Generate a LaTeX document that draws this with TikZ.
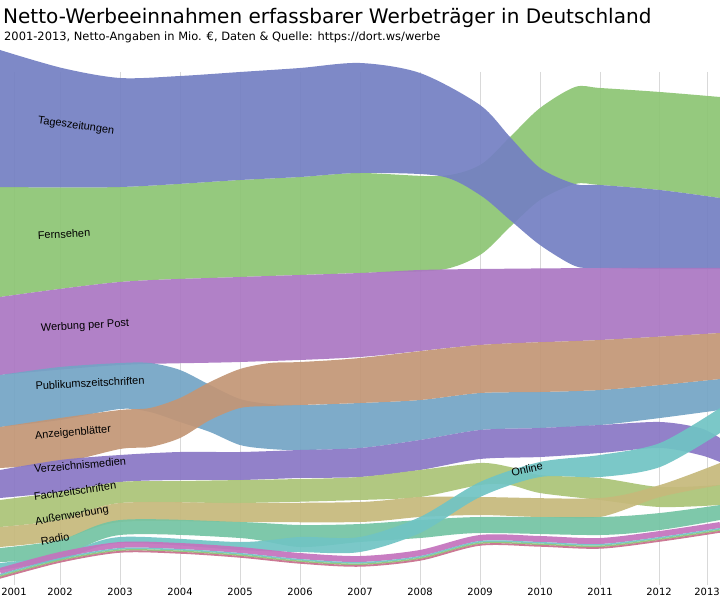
\documentclass[tikz,border=0pt]{standalone}
\usepackage{fontspec}
\setmainfont{DejaVu Sans}
\newfontfamily\labelfont{Liberation Sans}
\usetikzlibrary{positioning}

\begin{document}
\begin{tikzpicture}[x=1bp,y=-1bp]
    \tikzstyle{band}=[opacity=0.92,draw=none]
    \tikzstyle{medium}=[font=\labelfont\fontsize{11}{11}\selectfont,inner sep=0pt]
    \tikzstyle{year}=[font=\fontsize{10}{10}\selectfont,inner sep=0pt]
    \tikzstyle{grid}=[draw=gray!30,line width=0.8bp]
    \useasboundingbox[fill=white] (0,0) rectangle (720,600);
    % title
    \node[anchor=west,font=\fontsize{20.1}{20.1}\selectfont,inner sep=0pt] (title) at (3,18) {Netto-Werbeeinnahmen erfassbarer Werbeträger in Deutschland};
    \node[anchor=west,font=\fontsize{11.5}{11.5}\selectfont,inner sep=0pt] (subtitle) at (4,37) {2001-2013, Netto-Angaben in Mio. €, Daten \& Quelle: https://dort.ws/werbe};
    % grid and years
    \foreach \x/\yr in {14/2001,60/2002,120/2003,180/2004,240/2005,300/2006,360/2007,420/2008,480/2009,540/2010,600/2011,659/2012,707/2013}{
        \draw[grid] (\x,72) -- (\x,585);
        \node[year] (y\yr) at (\x,592) {\yr};
    }
    % bands
    \fill[band,fill={rgb,255:red,141;green,197;blue,116}]
        plot[smooth,tension=0.5] coordinates {(0,187)(120,187)(240,180)(300,177)(360,173)(440,176)(480,165)(510,137)(540,108)(575,87)(600,88)(660,92)(720,97)}
        -- plot[smooth,tension=0.5] coordinates {(720,198)(660,190)(600,185)(575,184)(540,200)(510,227)(480,255)(440,270)(360,273)(240,277)(120,282)(0,297)} -- cycle;
    \fill[band,fill={rgb,255:red,116;green,128;blue,195}]
        plot[smooth,tension=0.5] coordinates {(0,50)(62,68)(120,78)(180,76)(240,72)(300,68)(360,63)(420,73)(480,105)(510,137)(540,168)(575,184)(600,185)(660,190)(720,198)}
        -- plot[smooth,tension=0.5] coordinates {(720,269)(660,269)(600,268)(575,266)(540,245)(510,220)(480,195)(440,176)(360,173)(300,177)(240,180)(120,187)(0,187)} -- cycle;
    \fill[band,fill={rgb,255:red,171;green,119;blue,195}]
        plot[smooth,tension=0.5] coordinates {(0,297)(120,282)(240,277)(360,273)(420,270)(480,269)(600,268)(720,268)}
        -- plot[smooth,tension=0.5] coordinates {(720,333)(600,340)(480,345)(360,357)(240,362)(120,365)(0,375)} -- cycle;
    \fill[band,fill={rgb,255:red,116;green,164;blue,197}]
        plot[smooth,tension=0.5] coordinates {(0,375)(60,367)(120,363)(150,363)(180,370)(210,385)(240,399)(270,404)(300,405)(360,403)(420,400)(480,393)(540,392)(600,390)(660,385)(720,379)}
        -- plot[smooth,tension=0.5] coordinates {(720,410)(660,418)(600,425)(540,428)(480,430)(420,440)(360,448)(300,450)(270,449)(240,445)(210,432)(180,422)(150,412)(120,409)(60,420)(0,427)} -- cycle;
    \fill[band,fill={rgb,255:red,195;green,150;blue,118}]
        plot[smooth,tension=0.5] coordinates {(0,427)(60,418)(120,410)(150,408)(180,398)(210,382)(240,369)(270,363)(300,362)(360,358)(480,345)(600,340)(720,333)}
        -- plot[smooth,tension=0.5] coordinates {(720,379)(660,385)(600,390)(540,392)(480,393)(420,400)(360,403)(300,405)(270,406)(240,408)(210,420)(180,438)(150,447)(120,449)(60,463)(0,468)} -- cycle;
    \fill[band,fill={rgb,255:red,137;green,119;blue,197}]
        plot[smooth,tension=0.5] coordinates {(0,470)(60,460)(120,455)(180,452)(240,452)(300,450)(360,448)(420,440)(480,430)(540,428)(600,425)(660,422)(700,428)(720,438)}
        -- plot[smooth,tension=0.5] coordinates {(720,462)(700,455)(660,448)(600,453)(540,457)(480,459)(420,470)(360,477)(300,478)(240,480)(180,480)(120,482)(60,492)(0,498)} -- cycle;
    \fill[band,fill={rgb,255:red,171;green,196;blue,119}]
        plot[smooth,tension=0.5] coordinates {(0,500)(60,492)(120,482)(180,481)(300,479)(360,477)(420,470)(480,463)(510,467)(540,475)(600,478)(660,487)(720,485)}
        -- plot[smooth,tension=0.5] coordinates {(720,505)(660,507)(600,500)(540,493)(510,485)(480,485)(420,497)(360,500)(240,503)(120,503)(60,520)(0,527)} -- cycle;
    \fill[band,fill={rgb,255:red,198;green,185;blue,123}]
        plot[smooth,tension=0.5] coordinates {(0,527)(60,520)(120,503)(240,503)(360,502)(420,497)(480,497)(600,498)(660,485)(720,463)}
        -- plot[smooth,tension=0.5] coordinates {(720,485)(660,497)(600,517)(540,517)(480,515)(420,517)(360,522)(240,522)(120,522)(60,540)(0,547)} -- cycle;
    \fill[band,fill={rgb,255:red,116;green,196;blue,163}]
        plot[smooth,tension=0.5] coordinates {(0,548)(60,540)(120,520)(240,522)(300,525)(360,524)(420,520)(480,517)(600,517)(660,513)(720,505)}
        -- plot[smooth,tension=0.5] coordinates {(720,520)(660,530)(600,535)(480,533)(420,538)(360,542)(300,547)(240,538)(120,535)(60,557)(0,562)} -- cycle;
    \fill[band,fill={rgb,255:red,112;green,196;blue,196}]
        plot[smooth,tension=0.5] coordinates {(0,563)(60,555)(120,537)(240,542)(300,537)(360,537)(420,517)(480,482)(540,462)(600,455)(660,443)(720,408)}
        -- plot[smooth,tension=0.5] coordinates {(720,433)(660,467)(600,477)(540,477)(480,497)(420,533)(360,552)(300,552)(240,550)(120,543)(60,560)(0,570)} -- cycle;
    % thin bands at the bottom
    \foreach \s/\w/\c in {7/6/{rgb,255:red,196;green,115;blue,189},3.2/1.6/{rgb,255:red,112;green,196;blue,196},1.7/1.5/{rgb,255:red,141;green,197;blue,116},0.2/1.8/{rgb,255:red,200;green,110;blue,140}}{
        \draw[line width=\w bp,color=\c,opacity=0.92,yshift=\s bp] plot[smooth,tension=0.5] coordinates {(0,578)(60,562)(120,552)(180,553)(240,557)(300,563)(360,566)(420,560)(480,545)(540,546)(600,548)(660,541)(720,532)};
    }
    % labels
    \node[medium,rotate=-8] (tages) at (76,126) {Tageszeitungen};
    \node[medium,rotate=3] (fern) at (64,234) {Fernsehen};
    \node[medium,rotate=3] (post) at (85,326) {Werbung per Post};
    \node[medium,rotate=3] (publikum) at (90,383) {Publikumszeitschriften};
    \node[medium,rotate=5] (anzeigen) at (73,433) {Anzeigenblätter};
    \node[medium,rotate=5] (verzeichnis) at (80,465) {Verzeichnismedien};
    \node[medium,rotate=8] (fach) at (75,491) {Fachzeitschriften};
    \node[medium,rotate=10] (aussen) at (72,516) {Außenwerbung};
    \node[medium,rotate=10] (radio) at (55,539) {Radio};
    \node[medium,rotate=12] (online) at (527,469) {Online};
\end{tikzpicture}
\end{document}
